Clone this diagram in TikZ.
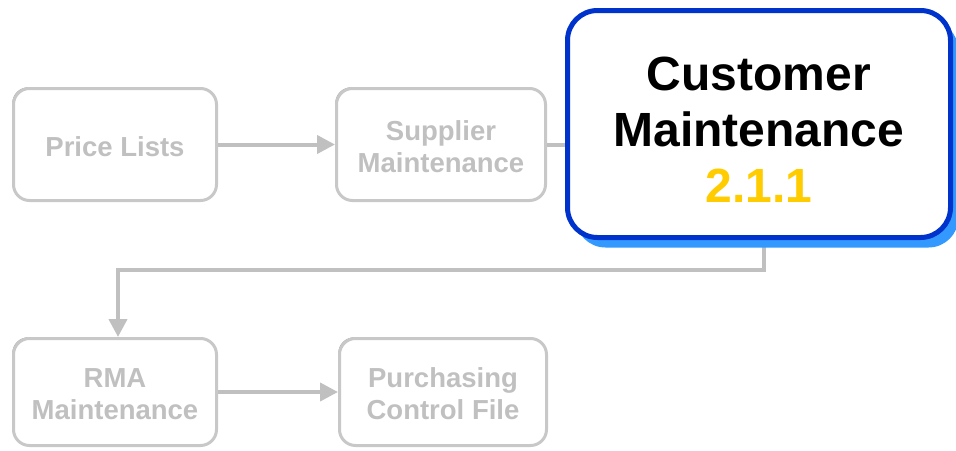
\documentclass[tikz,border=0pt]{standalone}
\usepackage{fontspec}
\setmainfont{Liberation Sans}
\usetikzlibrary{shadows,arrows.meta,positioning}
\definecolor{boxgray}{HTML}{C8C8C8}
\definecolor{txtgray}{HTML}{C0C0C0}
\definecolor{edgegray}{HTML}{8C8C8C}
\definecolor{mainblue}{HTML}{0033CC}
\definecolor{shadowblue}{HTML}{3399FF}
\definecolor{numyellow}{HTML}{FFCC00}
\tikzset{
  graybox/.style={draw=boxgray, line width=3pt, fill=white, rounded corners=16pt,
    minimum height=112pt,
    drop shadow={shadow xshift=-1.2pt, shadow yshift=1.2pt, fill=edgegray, opacity=1}},
  graytext/.style={align=center, text=txtgray, yshift=-2pt,
    font=\fontsize{27.5pt}{32pt}\selectfont\bfseries},
  mainbox/.style={draw=mainblue, line width=5pt, fill=white, rounded corners=30pt,
    minimum width=383pt, minimum height=227pt,
    drop shadow={shadow xshift=8pt, shadow yshift=-10pt, fill=shadowblue, opacity=1}},
  maintext/.style={align=center, yshift=-6pt,
    font=\fontsize{48pt}{56pt}\selectfont\bfseries},
  conn/.style={draw=txtgray, line width=4pt},
  arr/.style={conn, -{Triangle[length=18pt,width=18pt]}}
}
\begin{document}
\begin{tikzpicture}[x=1pt,y=-1pt]
\useasboundingbox (0,0) rectangle (956,450);
\node[graybox, minimum width=203pt, label={[graytext]center:Price Lists}] (price) at (115,144.5) {};
\node[graybox, minimum width=209pt, label={[graytext]center:Supplier\\Maintenance}] (supp) at (441,144.5) {};
\node[graybox, minimum width=203pt, minimum height=107pt, label={[graytext]center:RMA\\Maintenance}] (rma) at (115,392) {};
\node[graybox, minimum width=207pt, minimum height=107pt, label={[graytext]center:Purchasing\\Control File}] (purch) at (443,392) {};
\draw[arr] (price.east) -- (supp.west);
\draw[conn] (supp.east) -- (565,144.5) coordinate (custin);
\coordinate (bend) at (118,270);
\draw[arr] (764,240) coordinate (custout) |- (bend) -- (rma.north -| bend);
\draw[arr] (rma.east) -- (purch.west);
\node[mainbox, label={[maintext]center:Customer\\Maintenance\\{\color{numyellow}2.1.1}}] (cust) at (759,124) {};
\end{tikzpicture}
\end{document}
